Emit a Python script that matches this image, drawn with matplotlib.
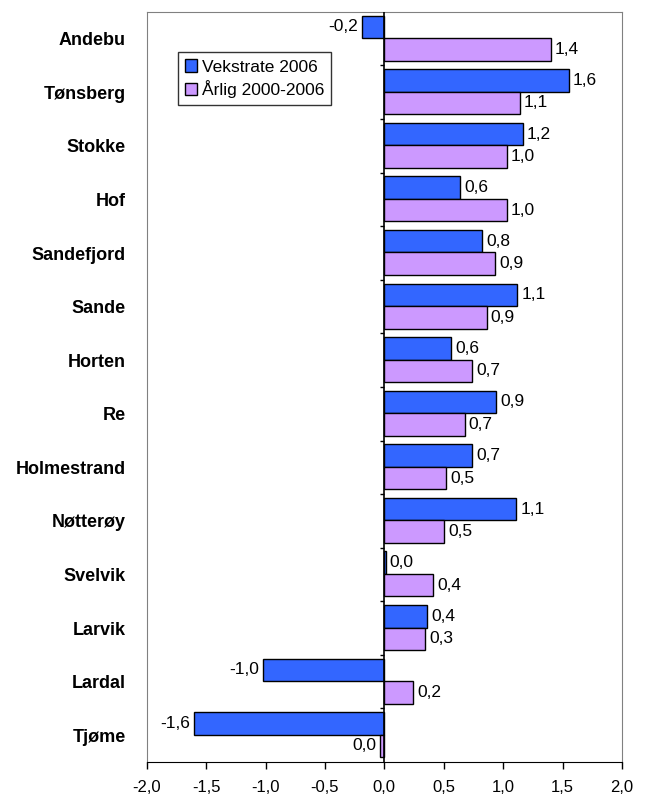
import numpy as np
import matplotlib
matplotlib.use("Agg")
from matplotlib import pyplot as plt

plt.rcParams['font.family'] = ['Liberation Sans', 'DejaVu Sans']

kommuner = ["Andebu", "Tønsberg", "Stokke", "Hof", "Sandefjord", "Sande", "Horten",
            "Re", "Holmestrand", "Nøtterøy", "Svelvik", "Larvik", "Lardal", "Tjøme"]
vekst_2006 = [-0.19, 1.55, 1.165, 0.64, 0.82, 1.12, 0.56, 0.94, 0.74, 1.11, 0.01, 0.36, -1.02, -1.60]
aarlig_2000_2006 = [1.40, 1.14, 1.03, 1.03, 0.93, 0.86, 0.74, 0.675, 0.52, 0.50, 0.41, 0.34, 0.24, -0.035]
xticks = [-2.0, -1.5, -1.0, -0.5, 0.0, 0.5, 1.0, 1.5, 2.0]

blue = "#3366FF"
purple = "#CC99FF"


def komma(v):
    s = "%.1f" % v
    if s == "-0.0":
        s = "0.0"
    return s.replace(".", ",")


fig = plt.figure(figsize=(6.47, 7.94), dpi=100)
ax = fig.add_axes([0.2267, 0.0403, 0.9614 - 0.2267, 0.985 - 0.0403])

y = np.arange(len(kommuner))
h = 0.42
b1 = ax.barh(y - h / 2 - 0.01, vekst_2006, height=h, color=blue, edgecolor="black", lw=1,
             label="Vekstrate 2006")
b2 = ax.barh(y + h / 2 - 0.01, aarlig_2000_2006, height=h, color=purple, edgecolor="black", lw=1,
             label="Årlig 2000-2006")
ax.bar_label(b1, labels=[komma(v) for v in vekst_2006], padding=3, fontsize=12.5)
ax.bar_label(b2, labels=[komma(v) for v in aarlig_2000_2006], padding=3, fontsize=12.5)

ax.set_xlim(-2, 2)
ax.set_ylim(len(kommuner) - 0.5, -0.5)
ax.set_xticks(xticks)
ax.set_xticklabels([komma(t) for t in xticks], fontsize=12)
ax.tick_params(axis="x", direction="out", length=5, width=1, pad=8)

ax.set_yticks(y)
ax.set_yticklabels(kommuner, fontsize=13, fontweight="bold")
ax.tick_params(axis="y", length=0, pad=15)

# y-akse ved null med små streker mellom gruppene
ax.axvline(0, color="black", lw=1.2, zorder=3)
grenser = np.arange(len(kommuner) + 1) - 0.5
ax.hlines(grenser[1:-1], -0.04, 0, color="black", lw=1, zorder=3)

for s in ["left", "top", "right"]:
    ax.spines[s].set_color("#808080")
ax.spines["bottom"].set_color("black")

leg = ax.legend(loc="upper left", bbox_to_anchor=(0.065, 0.946), fontsize=12.5, frameon=True,
                fancybox=False, edgecolor="black", handlelength=0.7, handleheight=0.7,
                handletextpad=0.3, borderpad=0.4, labelspacing=0.3, borderaxespad=0)
leg.get_frame().set_linewidth(1)

fig.savefig("out.png", dpi=100)
